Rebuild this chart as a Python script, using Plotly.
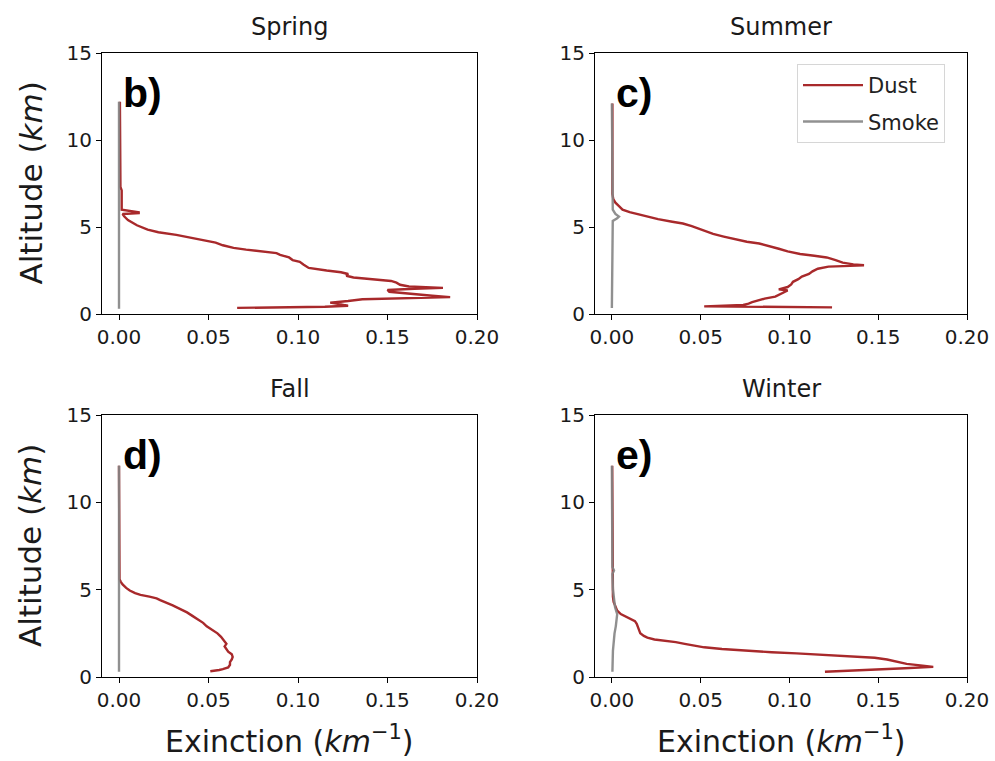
import plotly.graph_objects as go

# ---- Seasonal mean extinction profiles (altitude in km, extinction in km^-1) ----
spring_dust_alt = [12.2, 7.3, 7.1, 6.3, 6.0, 5.85, 5.8, 5.75, 5.6, 5.4, 5.1, 4.85, 4.7, 4.55,
                   4.4, 4.25, 4.1, 3.95, 3.8, 3.7, 3.6, 3.5, 3.4, 3.25, 3.1, 3.0, 2.85, 2.65,
                   2.5, 2.4, 2.3, 2.2, 2.1, 2.0, 1.9, 1.8, 1.68, 1.58, 1.5, 1.45, 1.38, 1.28,
                   1.18, 1.05, 0.97, 0.9, 0.85, 0.75, 0.65, 0.55, 0.47, 0.42, 0.35]
spring_dust = [0.0005, 0.0008, 0.0015, 0.0012, 0.0015, 0.011, 0.011, 0.002, 0.003, 0.005,
               0.010, 0.016, 0.022, 0.032, 0.040, 0.046, 0.054, 0.058, 0.064, 0.071, 0.080,
               0.088, 0.090, 0.095, 0.097, 0.101, 0.103, 0.106, 0.116, 0.124, 0.128, 0.127,
               0.131, 0.141, 0.152, 0.155, 0.157, 0.162, 0.181, 0.165, 0.150, 0.151, 0.160,
               0.175, 0.185, 0.160, 0.136, 0.128, 0.118, 0.124, 0.128, 0.115, 0.066]
spring_smoke_alt = [12.2, 6.0, 0.3]
spring_smoke = [0.0, 0.0, 0.0]

summer_dust_alt = [12.1, 6.9, 6.6, 6.4, 6.2, 6.0, 5.85, 5.75, 5.6, 5.45, 5.3, 5.2, 5.05, 4.9,
                   4.75, 4.6, 4.45, 4.3, 4.15, 4.05, 3.9, 3.75, 3.6, 3.45, 3.35, 3.25, 3.1,
                   2.95, 2.85, 2.8, 2.75, 2.72, 2.6, 2.45, 2.3, 2.15, 2.0, 1.85, 1.7, 1.55,
                   1.42, 1.35, 1.25, 1.1, 1.0, 0.88, 0.78, 0.68, 0.6, 0.52, 0.44, 0.38]
summer_dust = [0.0003, 0.0003, 0.0008, 0.002, 0.004, 0.006, 0.010, 0.014, 0.020, 0.026,
               0.034, 0.040, 0.045, 0.049, 0.053, 0.057, 0.063, 0.069, 0.076, 0.083, 0.089,
               0.094, 0.099, 0.106, 0.114, 0.121, 0.126, 0.130, 0.136, 0.142, 0.130, 0.122,
               0.116, 0.113, 0.111, 0.107, 0.105, 0.102, 0.101, 0.099, 0.094, 0.099, 0.097,
               0.094, 0.092, 0.086, 0.082, 0.079, 0.077, 0.074, 0.052, 0.124]
summer_smoke_alt = [12.1, 6.5, 6.0, 5.75, 5.6, 5.5, 5.35, 0.35]
summer_smoke = [0.0, 0.0003, 0.0005, 0.002, 0.004, 0.003, 0.0005, 0.0]

fall_dust_alt = [12.1, 5.6, 5.45, 5.3, 5.1, 4.95, 4.8, 4.7, 4.6, 4.5, 4.4, 4.25, 4.1, 3.9,
                 3.7, 3.5, 3.3, 3.1, 2.9, 2.7, 2.5, 2.3, 2.15, 2.0, 1.9, 1.75, 1.6, 1.45,
                 1.3, 1.15, 1.0, 0.85, 0.7, 0.55, 0.45, 0.4, 0.33]
fall_dust = [0.0, 0.0003, 0.001, 0.002, 0.004, 0.006, 0.009, 0.012, 0.017, 0.021, 0.023,
             0.027, 0.030, 0.034, 0.038, 0.041, 0.044, 0.047, 0.049, 0.052, 0.055, 0.057,
             0.058, 0.059, 0.060, 0.059, 0.060, 0.061, 0.063, 0.0635, 0.063, 0.062, 0.062,
             0.061, 0.058, 0.056, 0.051]
fall_smoke_alt = [12.1, 5.5, 0.3]
fall_smoke = [0.0, 0.0, 0.0]

winter_dust_alt = [12.1, 5.0, 4.6, 4.3, 4.0, 3.8, 3.6, 3.45, 3.3, 3.2, 3.05, 2.9, 2.7, 2.5,
                   2.35, 2.25, 2.15, 2.08, 2.0, 1.9, 1.8, 1.7, 1.6, 1.5, 1.42, 1.35, 1.27,
                   1.18, 1.1, 1.0, 0.88, 0.75, 0.65, 0.58, 0.5, 0.42, 0.3]
winter_dust = [0.0002, 0.0003, 0.0006, 0.001, 0.002, 0.003, 0.005, 0.008, 0.011, 0.013,
               0.014, 0.0145, 0.015, 0.016, 0.018, 0.020, 0.024, 0.031, 0.036, 0.041, 0.046,
               0.052, 0.062, 0.076, 0.090, 0.104, 0.120, 0.135, 0.148, 0.155, 0.161, 0.166,
               0.175, 0.181, 0.165, 0.145, 0.120]
winter_smoke_alt = [12.1, 6.3, 6.1, 5.9, 5.0, 4.5, 4.0, 3.6, 3.3, 2.9, 2.5, 2.1, 1.5, 0.3]
winter_smoke = [0.0, 0.0003, 0.0012, 0.0003, 0.0006, 0.001, 0.0018, 0.003, 0.0028, 0.0022,
                0.0015, 0.001, 0.0006, 0.0003]

seasons = ["Spring", "Summer", "Fall", "Winter"]
panel_tags = ["b)", "c)", "d)", "e)"]
dust_profiles = [(spring_dust, spring_dust_alt), (summer_dust, summer_dust_alt),
                 (fall_dust, fall_dust_alt), (winter_dust, winter_dust_alt)]
smoke_profiles = [(spring_smoke, spring_smoke_alt), (summer_smoke, summer_smoke_alt),
                  (fall_smoke, fall_smoke_alt), (winter_smoke, winter_smoke_alt)]

x_ticks = [0.0, 0.05, 0.10, 0.15, 0.20]
y_ticks = [0, 5, 10, 15]

DUST_COLOR = "#a8292b"
SMOKE_COLOR = "#858585"
FONT = "DejaVu Sans"

W, H = 995, 761
# panel geometry in pixels: (left, right, top, bottom)
boxes = [(102, 477, 53, 314), (595, 967, 53, 314),
         (102, 477, 415, 677), (595, 967, 415, 677)]

fig = go.Figure()
layout = dict(
    width=W, height=H,
    margin=dict(l=0, r=0, t=0, b=0, autoexpand=False),
    paper_bgcolor="white", plot_bgcolor="white",
    font=dict(family=FONT, color="#1a1a1a"),
    showlegend=True,
    legend=dict(x=797 / W, y=1 - 64 / H, xanchor="left", yanchor="top",
                bgcolor="white", bordercolor="#d6d6d6", borderwidth=1,
                font=dict(size=21, family=FONT, color="#222"),
                tracegroupgap=6, itemwidth=60),
)

annotations = []
for i, season in enumerate(seasons):
    l, r, t, b = boxes[i]
    xa = "x" if i == 0 else f"x{i + 1}"
    ya = "y" if i == 0 else f"y{i + 1}"
    xkey = "xaxis" if i == 0 else f"xaxis{i + 1}"
    ykey = "yaxis" if i == 0 else f"yaxis{i + 1}"

    dx, dy = dust_profiles[i]
    sx, sy = smoke_profiles[i]
    legend_here = (i == 1)
    fig.add_trace(go.Scatter(x=dx, y=dy, mode="lines", name="Dust",
                             line=dict(color=DUST_COLOR, width=2.4),
                             xaxis=xa, yaxis=ya, legendgroup="dust",
                             showlegend=legend_here))
    fig.add_trace(go.Scatter(x=sx, y=sy, mode="lines", name="Smoke",
                             line=dict(color=SMOKE_COLOR, width=2.4),
                             opacity=0.9,
                             xaxis=xa, yaxis=ya, legendgroup="smoke",
                             showlegend=legend_here))

    common = dict(showline=True, linecolor="black", linewidth=1.2, mirror=True,
                  ticks="outside", ticklen=5, tickwidth=1.2, tickcolor="black",
                  showgrid=False, zeroline=False,
                  tickfont=dict(size=20, family=FONT, color="#1a1a1a"))
    layout[xkey] = dict(domain=[l / W, r / W], anchor=ya, range=[-0.0095, 0.2],
                        tickvals=x_ticks, tickformat=".2f", **common)
    layout[ykey] = dict(domain=[1 - b / H, 1 - t / H], anchor=xa, range=[0, 15],
                        tickvals=y_ticks, **common)

    # subplot title
    annotations.append(dict(text=season, x=(l + r) / 2 / W, y=1 - (t - 26) / H,
                            xref="paper", yref="paper", xanchor="center",
                            yanchor="middle", showarrow=False,
                            font=dict(size=24, family=FONT, color="#1a1a1a")))
    # panel tag
    annotations.append(dict(text=f"<b>{panel_tags[i]}</b>", x=(l + 19) / W,
                            y=1 - (t + 40) / H, xref="paper", yref="paper",
                            xanchor="left", yanchor="middle", showarrow=False,
                            font=dict(size=41, family="Liberation Sans, Arial",
                                      color="black")))
    # axis titles
    if i % 2 == 0:
        annotations.append(dict(text="Altitude (<i>km</i>)", x=30 / W,
                                y=1 - (t + b) / 2 / H, xref="paper", yref="paper",
                                xanchor="center", yanchor="middle", textangle=-90,
                                showarrow=False,
                                font=dict(size=31, family=FONT, color="#1a1a1a")))
    if i >= 2:
        annotations.append(dict(text="Exinction (<i>km</i><sup>\u22121</sup>)",
                                x=(l + r) / 2 / W, y=1 / H, xref="paper",
                                yref="paper", xanchor="center", yanchor="bottom",
                                showarrow=False, borderpad=0,
                                font=dict(size=30, family=FONT, color="#1a1a1a")))

layout["annotations"] = annotations
fig.update_layout(**layout)
fig.write_html("out.html")
